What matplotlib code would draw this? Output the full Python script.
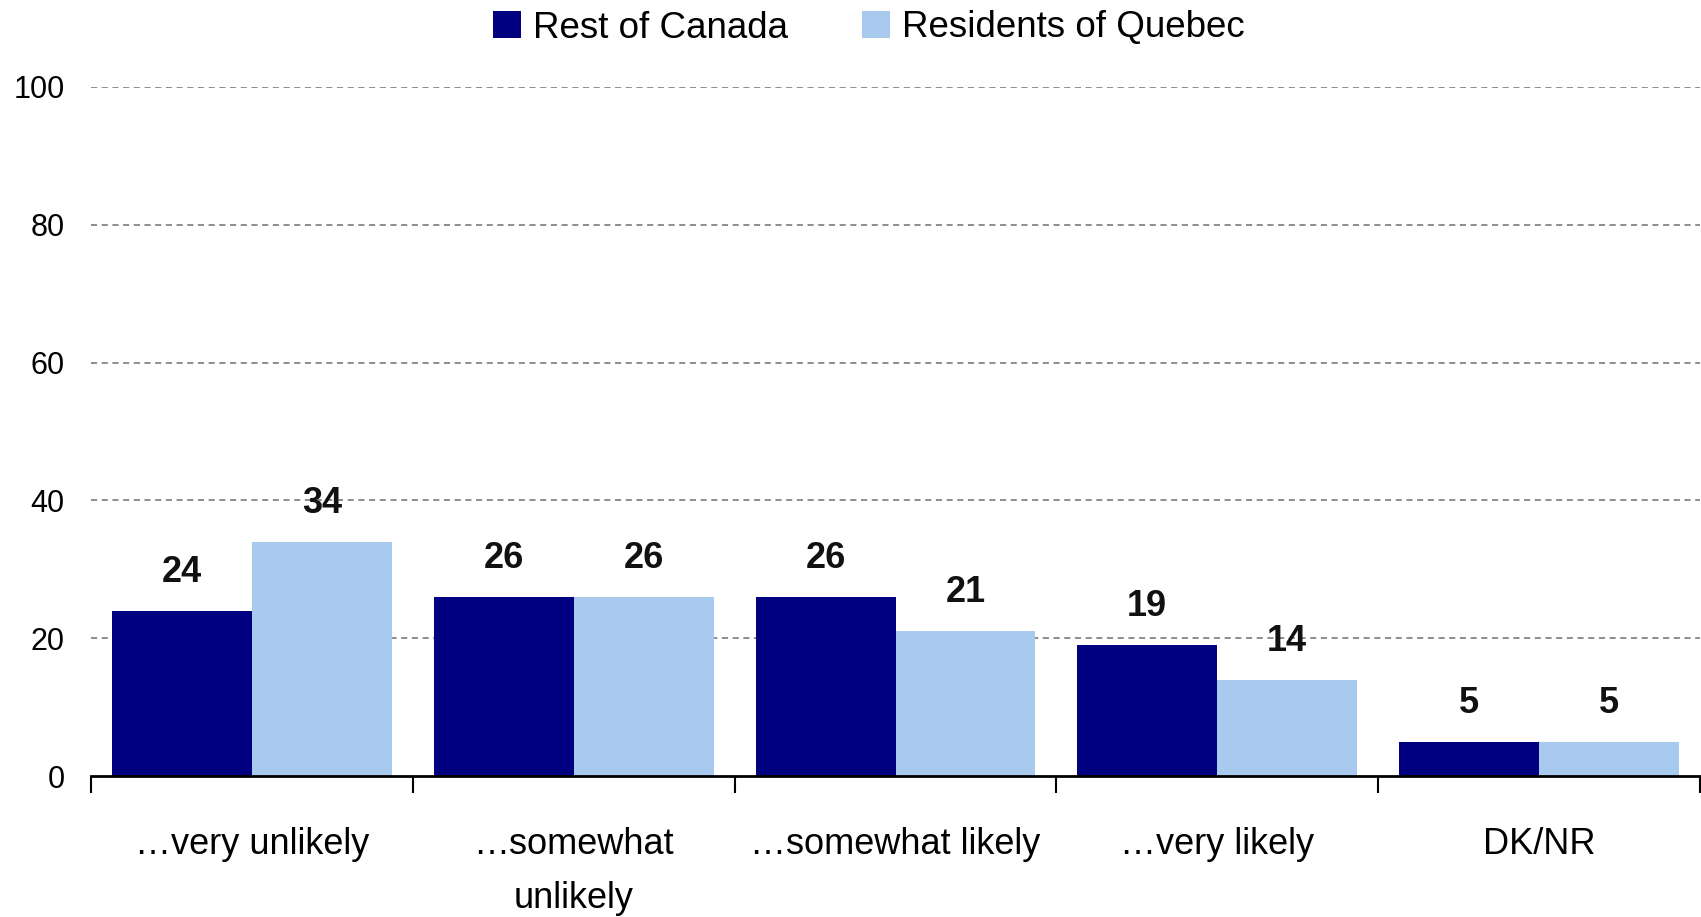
import matplotlib
matplotlib.use("Agg")
import matplotlib.pyplot as plt
import numpy as np

categories = ["\u2026very unlikely", "\u2026somewhat\nunlikely", "\u2026somewhat likely", "\u2026very likely", "DK/NR"]
rest_of_canada = [24, 26, 26, 19, 5]
quebec = [34, 26, 21, 14, 5]
series_names = ["Rest of Canada", "Residents of Quebec"]
yticks = [0, 20, 40, 60, 80, 100]

plt.rcParams['font.family'] = ['Liberation Sans', 'DejaVu Sans']

fig = plt.figure(figsize=(17.01, 9.17), dpi=100)
ax = fig.add_axes([91/1701, 1-776/917, (1700-91)/1701, (776-87)/917])

x = np.arange(len(categories))
w = 0.435
c1 = "#000080"
c2 = "#A8CAEF"
b1 = ax.bar(x - w/2, rest_of_canada, w, color=c1, label=series_names[0], zorder=3)
b2 = ax.bar(x + w/2, quebec, w, color=c2, label=series_names[1], zorder=3)

for bars, vals in ((b1, rest_of_canada), (b2, quebec)):
    for b, v in zip(bars, vals):
        ax.annotate(str(v), (b.get_x() + b.get_width()/2, b.get_height()),
                    xytext=(0, 15), textcoords="offset points", ha="center", va="bottom",
                    fontsize=26, fontweight="bold", color="#111111")

ax.set_ylim(0, 100)
ax.set_xlim(-0.5, len(categories) - 0.5)
ax.set_yticks(yticks)
ax.tick_params(axis='y', length=0, labelsize=22, pad=19)
for yv in yticks[1:]:
    ax.axhline(yv, color="#6f6f6f", linestyle=(0, (4, 3)), linewidth=1.1, zorder=1)

ax.set_xticks(np.arange(len(categories) + 1) - 0.5)
ax.set_xticklabels([])
ax.tick_params(axis='x', which='major', length=12, width=1.5, direction='out', color='black')
ax.set_xticks(x, minor=True)
ax.set_xticklabels(categories, minor=True, fontsize=26, linespacing=1.68)
ax.tick_params(axis='x', which='minor', length=0, pad=37)

for s in ['top', 'right', 'left']:
    ax.spines[s].set_visible(False)
ax.spines['bottom'].set_linewidth(2)
ax.spines['bottom'].set_zorder(4)

fig.legend(handles=[b1, b2], labels=series_names, loc='center', bbox_to_anchor=(869/1701, 1-28/917),
           ncol=2, frameon=False, fontsize=26.5, handlelength=0.76, handleheight=0.76,
           handletextpad=0.33, columnspacing=2.0)

fig.savefig("out.png", dpi=100)
